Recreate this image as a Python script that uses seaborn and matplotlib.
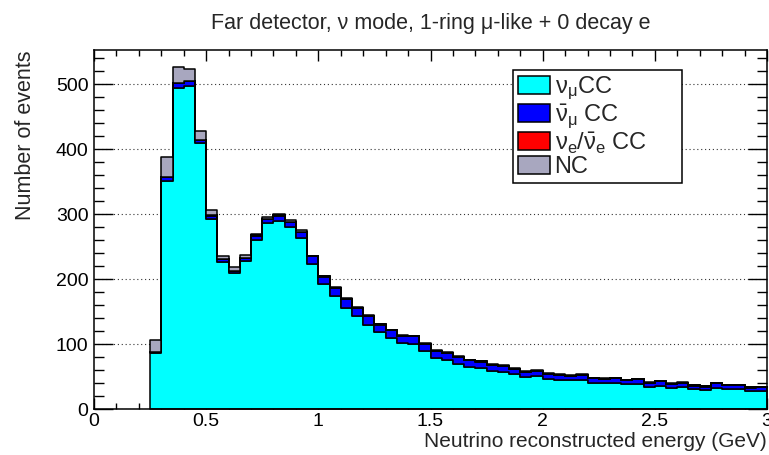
import numpy as np
import pandas as pd
import matplotlib
matplotlib.use("Agg")
import matplotlib.pyplot as plt
import seaborn as sns
from matplotlib.ticker import MultipleLocator
from matplotlib.patches import Patch

# ---- data (bin lower edges, GeV; 0.05 GeV bins) ----
bin_low = [0.25, 0.30, 0.35, 0.40, 0.45, 0.50, 0.55, 0.60, 0.65, 0.70,
           0.75, 0.80, 0.85, 0.90, 0.95, 1.00, 1.05, 1.10, 1.15, 1.20,
           1.25, 1.30, 1.35, 1.40, 1.45, 1.50, 1.55, 1.60, 1.65, 1.70,
           1.75, 1.80, 1.85, 1.90, 1.95, 2.00, 2.05, 2.10, 2.15, 2.20,
           2.25, 2.30, 2.35, 2.40, 2.45, 2.50, 2.55, 2.60, 2.65, 2.70,
           2.75, 2.80, 2.85, 2.90, 2.95]
numu_cc = [86, 351, 494, 497, 409, 293, 227, 209, 228, 261,
           286, 290, 280, 263, 223, 192, 174, 156, 143, 130,
           118, 109, 101, 100, 89, 78, 76, 70, 65, 63,
           59, 57, 54, 49, 51, 46, 45, 44, 45, 40,
           39.5, 40.5, 38, 39, 34, 36, 32, 34, 30.5, 29,
           33, 31, 30.5, 27, 28]
numubar_cc = [2, 6, 8, 8, 5, 5, 4, 4, 5, 6,
              7, 8, 8, 10, 12, 12, 12, 13, 13, 13,
              12, 12, 12, 12, 11, 11, 10, 10, 10, 10,
              9, 9, 8, 8, 8, 8, 7, 7, 7, 7,
              7, 7, 6.5, 6.5, 6.5, 7, 7, 6.5, 5.5, 5.5,
              6.5, 6, 6, 6, 5.5]
nue_cc = [0.3, 0.5, 0.5, 0.5, 0.5, 0.3, 0.3, 0.3, 0.3, 0.3,
          0.3, 0.3, 0.3, 0.3, 0.3, 0.3, 0.3, 0.3, 0.3, 0.3,
          0.2, 0.2, 0.2, 0.2, 0.2, 0.2, 0.2, 0.2, 0.2, 0.2,
          0.2, 0.2, 0.2, 0.2, 0.2, 0.2, 0.2, 0.2, 0.2, 0.2,
          0.2, 0.2, 0.2, 0.2, 0.2, 0.2, 0.2, 0.2, 0.2, 0.2,
          0.2, 0.2, 0.2, 0.2, 0.2]
nc = [18, 31, 25, 18, 13, 8, 5, 5, 4, 2,
      2, 2, 3, 3, 1, 1, 1, 1, 1, 1,
      1, 1, 1, 1, 1, 1, 1, 1, 1, 1,
      1, 1, 1, 1, 1, 1, 1, 1, 1, 0.5,
      0.5, 0.5, 0.5, 0.5, 0.5, 0.5, 0.5, 0.5, 0.5, 0.5,
      0.5, 0.5, 0.5, 0.5, 0.5]
bin_width = 0.05
components = ["numu", "numubar", "nue", "nc"]
labels = [r"$\nu_{\mu}$CC", r"$\bar{\nu}_{\mu}$ CC", r"$\nu_{e}/\bar{\nu}_{e}$ CC", "NC"]
colors = {"numu": "#00ffff", "numubar": "#0000ff", "nue": "#ff0000", "nc": "#a8a7bf"}
title = "Far detector, \u03bd mode, 1-ring \u03bc-like + 0 decay e"
xlabel = "Neutrino reconstructed energy (GeV)"
ylabel = "Number of events"

# ---- style ----
sns.set_style("ticks")
plt.rcParams["font.family"] = ["Liberation Sans", "DejaVu Sans"]
plt.rcParams["mathtext.fontset"] = "custom"
plt.rcParams["mathtext.rm"] = "Liberation Sans"
plt.rcParams["mathtext.it"] = "Liberation Sans"
plt.rcParams["mathtext.bf"] = "Liberation Sans:bold"
plt.rcParams["mathtext.default"] = "rm"

centers = np.array(bin_low) + bin_width / 2
frames = []
for comp, vals in zip(components, [numu_cc, numubar_cc, nue_cc, nc]):
    frames.append(pd.DataFrame({"E": centers, "n": vals, "comp": comp}))
df = pd.concat(frames, ignore_index=True)
edges = [round(v, 4) for v in list(bin_low) + [bin_low[-1] + bin_width]]

fig = plt.figure(figsize=(7.69, 4.55), dpi=100)
ax = fig.add_axes([94 / 769, 1 - 409 / 455, (767 - 94) / 769, (409 - 50) / 455])

sns.histplot(data=df, x="E", weights="n", hue="comp",
             hue_order=components[::-1], palette=colors,
             bins=edges, multiple="stack", element="step", fill=True,
             alpha=1, edgecolor="black", linewidth=1.1, legend=False, ax=ax)

ax.set_xlim(0, 3)
ax.set_ylim(0, 553)
ax.set_axisbelow(True)
ax.yaxis.grid(True, which="major", linestyle=(0, (1, 2.5)), color="#333333", linewidth=0.8)
ax.xaxis.grid(False)

ax.xaxis.set_major_locator(MultipleLocator(0.5))
ax.xaxis.set_minor_locator(MultipleLocator(0.1))
ax.yaxis.set_major_locator(MultipleLocator(100))
ax.yaxis.set_minor_locator(MultipleLocator(20))
ax.set_xticks([0, 0.5, 1, 1.5, 2, 2.5, 3])
ax.set_xticklabels(["0", "0.5", "1", "1.5", "2", "2.5", "3"])

for sp in ax.spines.values():
    sp.set_visible(True)
    sp.set_linewidth(1.1)
    sp.set_color("black")

ax.tick_params(axis="both", which="both", direction="in", top=True, right=True,
               colors="black", width=1.0, labelsize=14)
ax.tick_params(axis="y", which="major", length=14, pad=4)
ax.tick_params(axis="y", which="minor", length=7)
ax.tick_params(axis="x", which="major", length=8, pad=3)
ax.tick_params(axis="x", which="minor", length=4.5)

ax.set_xlabel(xlabel, fontsize=15, loc="right", labelpad=1)
ax.set_ylabel(ylabel, fontsize=15.5, loc="top", labelpad=14)
ax.set_title(title, fontsize=15.5, pad=15)

handles = [Patch(facecolor=colors[c], edgecolor="black", linewidth=1.1) for c in components]
leg = ax.legend(handles, labels, loc="upper left",
                bbox_to_anchor=(0.623, 0.944, 0.251, 0.0), mode="expand",
                fontsize=17, frameon=True, fancybox=False, framealpha=1,
                edgecolor="black", handlelength=1.35, handleheight=0.8,
                handletextpad=0.2, labelspacing=0.0, borderpad=0.2,
                borderaxespad=0)
leg.get_frame().set_linewidth(1.1)

fig.savefig("out.png", dpi=100)
